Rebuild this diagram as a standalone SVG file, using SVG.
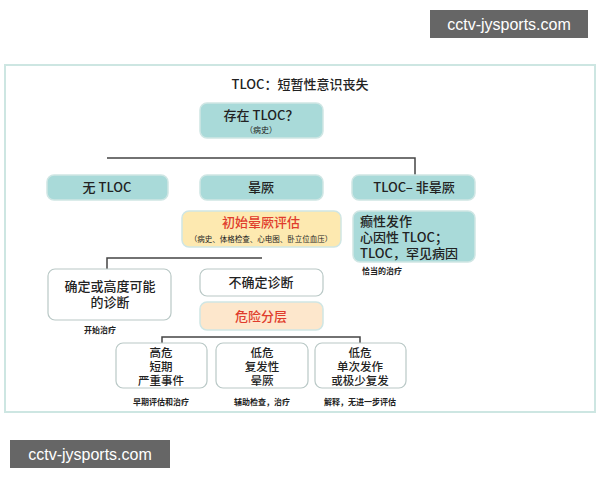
<svg xmlns="http://www.w3.org/2000/svg" width="600" height="480" viewBox="0 0 600 480">
<style>
text{font-family:"Noto Sans CJK SC","Liberation Sans",sans-serif;fill:#222;text-anchor:middle}
.st{text-anchor:start}
.b{fill:#a9dad9;stroke:#cfe6e4;stroke-width:1.5}
.w{fill:#fff;stroke:#b9c8c6;stroke-width:1.2}
.y{fill:#fde9b0;stroke:#cfe6e4;stroke-width:1.5}
.o{fill:#fde7cc;stroke:#cfe6e4;stroke-width:1.5}
.t{font-size:13px;font-weight:500}
.m{font-size:11.5px;font-weight:500}
.s{font-size:8px;font-weight:bold}
.l{fill:none;stroke:#444;stroke-width:1.5}
.wm{fill:#666}
.wt{fill:#fff;font-family:"Liberation Sans",sans-serif;font-size:16px}
</style>
<rect width="600" height="480" fill="#fff"/>
<rect x="5" y="65" width="590" height="347" fill="#fff" stroke="#cde6e2" stroke-width="2"/>
<text x="300" y="89" class="t">TLOC：短暂性意识丧失</text>
<g id="connectors">
<path class="l" d="M107 158H415V177"/>
<path class="l" d="M107 270V258H262"/>
<path class="l" d="M162 343V337H360V343"/>
</g>
<g id="n-top"><rect class="b" x="200" y="103" width="123" height="35" rx="7"/><text x="261" y="120" class="t">存在 TLOC？</text><text x="261" y="133" font-size="8">（病史）</text></g>
<g id="n-no"><rect class="b" x="47" y="175" width="121" height="25" rx="7"/><text x="107" y="192" class="t">无 TLOC</text></g>
<g id="n-syn"><rect class="b" x="200" y="175" width="123" height="25" rx="7"/><text x="261" y="192" class="t">晕厥</text></g>
<g id="n-non"><rect class="b" x="352" y="175" width="123" height="25" rx="7"/><text x="414" y="192" class="t">TLOC– 非晕厥</text></g>
<g id="n-init"><rect class="y" x="182" y="211" width="159" height="36" rx="7"/><text x="261" y="227" class="t" style="fill:#e03c2c">初始晕厥评估</text><text x="261" y="242" font-size="7.5">（病史、体格检查、心电图、卧立位血压）</text></g>
<g id="n-other"><rect class="b" x="353" y="211" width="122" height="51" rx="7"/><text x="360" y="226" class="t st">癫性发作</text><text x="360" y="242" class="t st">心因性 TLOC；</text><text x="360" y="258" class="t st">TLOC，罕见病因</text><text x="362" y="274" class="s st">恰当的治疗</text></g>
<g id="n-cert"><rect class="w" x="48" y="269" width="123" height="51" rx="7"/><text x="110" y="291" class="t">确定或高度可能</text><text x="110" y="307" class="t">的诊断</text><text x="100" y="333" class="s">开始治疗</text></g>
<g id="n-unc"><rect class="w" x="200" y="269" width="123" height="27" rx="7"/><text x="261" y="287" class="t">不确定诊断</text></g>
<g id="n-risk"><rect class="o" x="200" y="302" width="123" height="28" rx="7"/><text x="261" y="321" class="t" style="fill:#e03c2c">危险分层</text></g>
<g id="n-high"><rect class="w" x="116" y="343" width="91" height="45" rx="7"/><text x="161" y="357" class="m">高危</text><text x="161" y="371" class="m">短期</text><text x="161" y="385" class="m">严重事件</text><text x="161" y="405" class="s">早期评估和治疗</text></g>
<g id="n-low1"><rect class="w" x="216" y="343" width="92" height="45" rx="7"/><text x="262" y="357" class="m">低危</text><text x="262" y="371" class="m">复发性</text><text x="262" y="385" class="m">晕厥</text><text x="262" y="405" class="s">辅助检查，治疗</text></g>
<g id="n-low2"><rect class="w" x="315" y="343" width="91" height="45" rx="7"/><text x="360" y="357" class="m">低危</text><text x="360" y="371" class="m">单次发作</text><text x="360" y="385" class="m">或极少复发</text><text x="360" y="405" class="s">解释，无进一步评估</text></g>
<rect class="wm" x="430" y="10" width="158" height="28"/><text x="509" y="30" class="wt">cctv-jysports.com</text>
<rect class="wm" x="10" y="440" width="160" height="28"/><text x="90" y="460" class="wt">cctv-jysports.com</text>
</svg>
